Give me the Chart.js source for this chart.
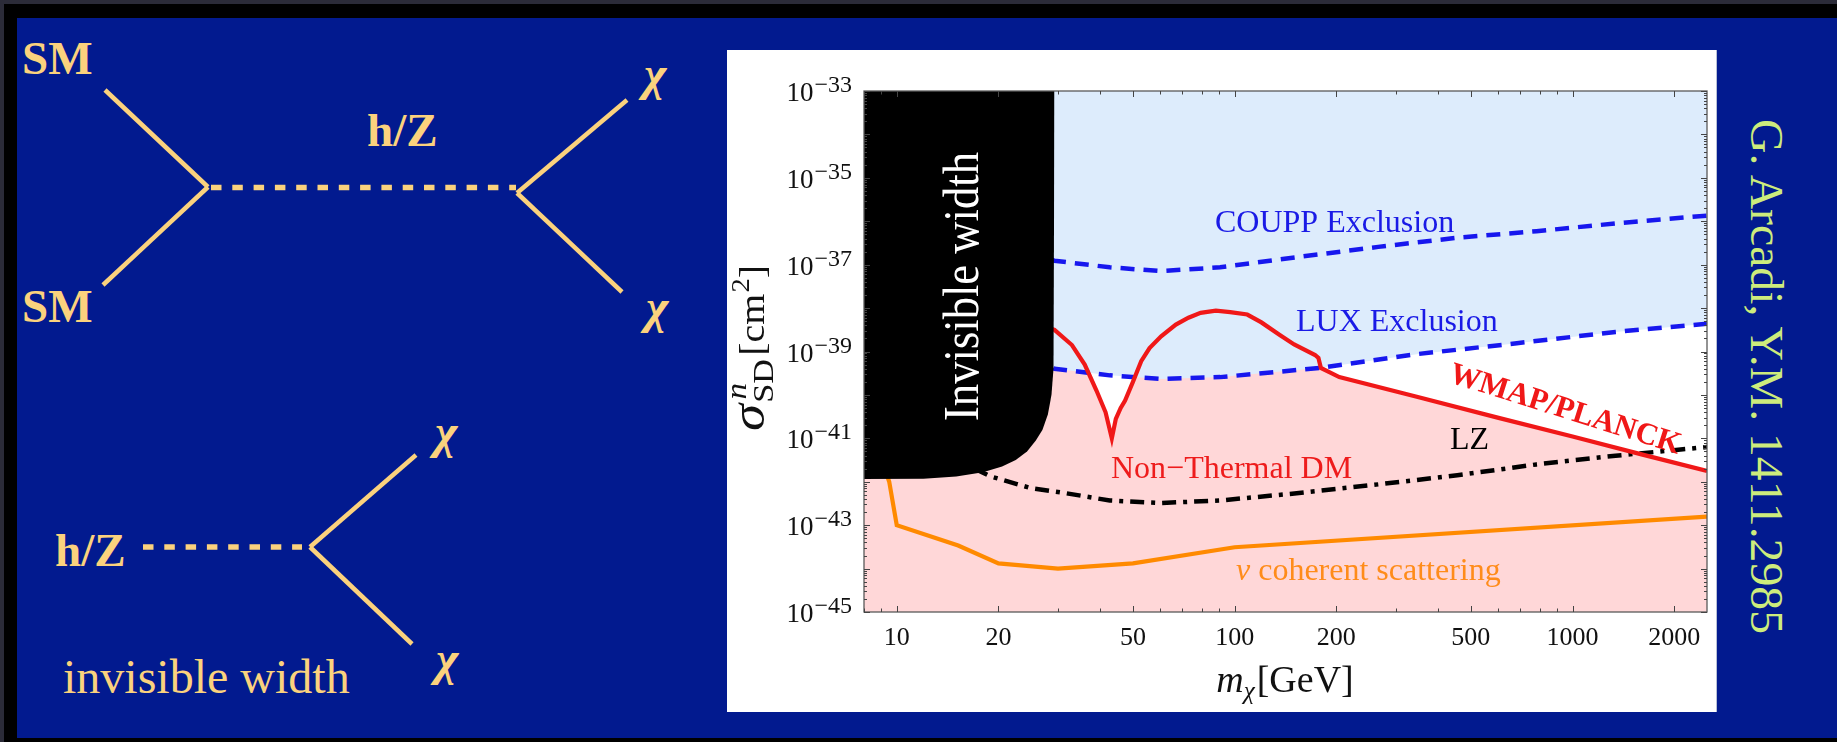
<!DOCTYPE html>
<html>
<head>
<meta charset="utf-8">
<title>Invisible width and spin-dependent limits</title>
<script src="https://cdn.jsdelivr.net/npm/chart.js@4.4.1/dist/chart.umd.min.js"></script>
<style>
  html, body { margin: 0; padding: 0; }
  body { width: 1837px; height: 742px; position: relative; overflow: hidden; background: #2b2b38; }
  #frame { position: absolute; left: 4px; top: 4px; right: 0; bottom: 0; background: #000; }
  #slide { position: absolute; left: 17px; top: 18px; width: 1820px; height: 720px; background: #021a8f; }
  svg { position: absolute; left: 0; top: 0; }
  #panel { position: absolute; left: 727px; top: 50px; width: 990px; height: 662px; background: #fff; border-right: 1px solid #b7bfd6; box-sizing: border-box; }
  #panel canvas { position: absolute; left: 0; top: 0; }
</style>
</head>
<body>
<div id="frame"></div>
<div id="slide"></div>

<svg width="1837" height="742" xmlns="http://www.w3.org/2000/svg">
  <g stroke="#fbd27d" stroke-width="4.5" fill="none">
    <line x1="105" y1="90" x2="208" y2="187"/>
    <line x1="208" y1="187" x2="103" y2="285"/>
    <line x1="517" y1="193" x2="627" y2="100"/>
    <line x1="517" y1="193" x2="622" y2="292"/>
    <line x1="310" y1="547" x2="416" y2="455"/>
    <line x1="310" y1="547" x2="412" y2="644"/>
  </g>
  <g stroke="#fbd27d" stroke-width="5.5" stroke-dasharray="10.5 10.8">
    <line x1="211" y1="187.5" x2="516" y2="187.5"/>
    <line x1="143" y1="547" x2="302" y2="547"/>
  </g>
  <g fill="#fbd27d" font-family="Liberation Serif, Times New Roman, serif">
    <text x="22" y="74" font-size="47" font-weight="700">SM</text>
    <text x="22" y="322" font-size="47" font-weight="700">SM</text>
    <text x="367" y="146" font-size="47" font-weight="700">h/Z</text>
    <text x="55" y="566" font-size="47" font-weight="700">h/Z</text>
    <text x="63" y="693" font-size="48">invisible width</text>
  </g>
  <g fill="#fbd27d" font-family="Liberation Serif, Times New Roman, serif" font-size="48" font-style="italic" font-weight="700">
    <text x="644" y="90">χ</text>
    <text x="646" y="323">χ</text>
    <text x="435" y="448">χ</text>
    <text x="436" y="675">χ</text>
  </g>
  <text transform="translate(1751 119) rotate(90)" fill="#cdec7c" font-size="47"
        textLength="515" lengthAdjust="spacingAndGlyphs"
        font-family="Liberation Serif, Times New Roman, serif">G. Arcadi, Y.M. 1411.2985</text>
</svg>

<div id="panel"><canvas id="chart" width="989" height="662"></canvas></div>

<script>
// dark matter mass in GeV, cross sections in cm^2
const massTickValues = [10, 20, 50, 100, 200, 500, 1000, 2000];
const massTickLabels = ['10', '20', '50', '100', '200', '500', '1000', '2000'];
const sigmaTickValues = [1e-33, 1e-35, 1e-37, 1e-39, 1e-41, 1e-43, 1e-45];
const sigmaTickPowers = ['\u221233', '\u221235', '\u221237', '\u221239', '\u221241', '\u221243', '\u221245'];

// lower edge of the invisible width exclusion
const invisibleMass  = [8, 12, 15, 18, 20.5, 22.5, 24.3, 25.8, 27, 28, 28.7, 29.1, 29.3];
const invisibleSigma = [1.15e-42, 1.17e-42, 1.32e-42, 1.66e-42, 2.24e-42, 3.16e-42, 5.0e-42,
                        8.9e-42, 1.58e-41, 3.55e-41, 1.0e-40, 3.98e-40, 1e-33];

// WMAP/PLANCK relic density curve
const relicMass  = [8, 29.3, 33, 36, 39, 41.5, 43.3, 44.5, 46, 47.4, 50, 52.9, 56, 60.6, 67, 73,
                    79.3, 88, 97, 109, 120, 136, 150, 173, 177, 180, 190, 204, 346, 600, 1000, 1600, 2500];
const relicSigma = [1e-37, 3.16e-39, 1.41e-39, 5.0e-40, 1.26e-40, 3.98e-41, 1.0e-41, 2.82e-41, 5.0e-41,
                    7.4e-41, 2.0e-40, 6.0e-40, 1.2e-39, 2.24e-39, 4.17e-39, 6.0e-39, 7.76e-39, 8.7e-39,
                    8.1e-39, 7.1e-39, 4.68e-39, 2.4e-39, 1.45e-39, 8.3e-40, 7.1e-40, 4.17e-40, 3.4e-40,
                    2.57e-40, 9.1e-41, 3.0e-41, 1.1e-41, 4.27e-42, 1.78e-42];

const couppMass  = [8, 29.3, 42.7, 60.5, 90.6, 155, 266, 456, 782, 1340, 2500];
const couppSigma = [1.26e-35, 1.23e-37, 8.7e-38, 7.1e-38, 8.7e-38, 1.51e-37, 2.57e-37, 4.17e-37,
                    5.9e-37, 8.9e-37, 1.35e-36];

const luxMass  = [8, 29.3, 42.7, 60.5, 90.6, 178, 346, 684, 1340, 2500];
const luxSigma = [3.55e-38, 4.0e-40, 2.82e-40, 2.34e-40, 2.57e-40, 4.17e-40, 8.7e-40, 1.55e-39,
                  2.82e-39, 4.37e-39];

const lzMass  = [17, 19, 25, 31, 42.7, 60.5, 90.6, 155, 266, 456, 782, 1340, 2500];
const lzSigma = [2.0e-42, 1.32e-42, 7.1e-43, 5.6e-43, 3.7e-43, 3.24e-43, 3.7e-43, 5.5e-43, 8.7e-43,
                 1.41e-42, 2.51e-42, 3.98e-42, 6.3e-42];

// neutrino coherent scattering floor
const nuMass  = [8, 9.5, 10, 15.2, 20, 30, 50, 100, 2500];
const nuSigma = [5.0e-41, 1.0e-42, 1.0e-43, 3.4e-44, 1.32e-44, 1.0e-44, 1.32e-44, 3.1e-44, 1.58e-43];

const SERIF = '"Liberation Serif", "Times New Roman", serif';
const CLEAR = 'rgba(0,0,0,0)';

function pts(xs, ys) {
  return xs.map((x, i) => ({ x: x, y: ys[i] }));
}

function drawSigmaTitle(ctx) {
  ctx.save();
  ctx.translate(37, 298);
  ctx.rotate(-Math.PI / 2);
  ctx.fillStyle = '#111';
  ctx.textAlign = 'left';
  ctx.textBaseline = 'alphabetic';
  ctx.font = 'italic 48px ' + SERIF;
  const wSig = ctx.measureText('σ').width;
  ctx.font = 'italic 29px ' + SERIF;
  const wN = ctx.measureText('n').width;
  ctx.font = '30px ' + SERIF;
  const wSD = ctx.measureText('SD').width;
  ctx.font = '35px ' + SERIF;
  const wCm = ctx.measureText('[cm').width;
  const wBr = ctx.measureText(']').width;
  ctx.font = '25px ' + SERIF;
  const w2 = ctx.measureText('2').width;
  const total = wSig + 1 + Math.max(wN, wSD) + 3 + wCm + 1 + w2 + wBr;
  ctx.scale(166 / total, 1);
  let cx = -total / 2;
  ctx.font = 'italic 48px ' + SERIF;
  ctx.fillText('σ', cx, 0);
  cx += wSig + 1;
  ctx.font = 'italic 29px ' + SERIF;
  ctx.fillText('n', cx + 3, -18);
  ctx.font = '30px ' + SERIF;
  ctx.fillText('SD', cx, 9);
  cx += Math.max(wN, wSD) + 3;
  ctx.font = '35px ' + SERIF;
  ctx.fillText('[cm', cx, 0);
  cx += wCm + 1;
  ctx.font = '25px ' + SERIF;
  ctx.fillText('2', cx, -15);
  cx += w2;
  ctx.font = '35px ' + SERIF;
  ctx.fillText(']', cx, 0);
  ctx.restore();
}

function drawMassTitle(ctx) {
  ctx.save();
  ctx.fillStyle = '#111';
  ctx.textAlign = 'left';
  ctx.font = 'italic 38px ' + SERIF;
  const wm = ctx.measureText('m').width;
  ctx.font = 'italic 25px ' + SERIF;
  const wc = ctx.measureText('χ').width;
  ctx.font = '38px ' + SERIF;
  const wg = ctx.measureText('[GeV]').width;
  const total = wm + wc + 2 + wg;
  let cx = 558 - total / 2;
  ctx.font = 'italic 38px ' + SERIF;
  ctx.fillText('m', cx, 642);
  cx += wm;
  ctx.font = 'italic 25px ' + SERIF;
  ctx.fillText('χ', cx, 649);
  cx += wc + 2;
  ctx.font = '38px ' + SERIF;
  ctx.fillText('[GeV]', cx, 642);
  ctx.restore();
}

const frameAndLabels = {
  id: 'frameAndLabels',
  afterDraw(chart) {
    const ctx = chart.ctx;
    const a = chart.chartArea;
    const xs = chart.scales.x;
    const ys = chart.scales.y;
    ctx.save();

    // text inside the plot
    ctx.textAlign = 'left';
    ctx.textBaseline = 'alphabetic';
    ctx.font = '32px ' + SERIF;
    ctx.fillStyle = '#1a1ae6';
    ctx.fillText('COUPP Exclusion', 488, 182);
    ctx.fillText('LUX Exclusion', 569, 281);
    ctx.fillStyle = '#ee1c1c';
    ctx.fillText('Non\u2212Thermal DM', 384, 428);
    ctx.fillStyle = '#000';
    ctx.fillText('LZ', 723, 399);
    ctx.fillStyle = '#ff8c1a';
    ctx.font = 'italic 32px ' + SERIF;
    ctx.fillText('ν', 509, 530);
    const wnu = ctx.measureText('ν').width;
    ctx.font = '32px ' + SERIF;
    ctx.fillText(' coherent scattering', 509 + wnu, 530);

    ctx.save();
    ctx.translate(838, 360);
    ctx.rotate(17.5 * Math.PI / 180);
    ctx.font = 'bold 31px ' + SERIF;
    ctx.fillStyle = '#f01818';
    ctx.textAlign = 'center';
    ctx.textBaseline = 'middle';
    ctx.fillText('WMAP/PLANCK', 0, 0);
    ctx.restore();

    ctx.save();
    ctx.translate(251, 371);
    ctx.rotate(-Math.PI / 2);
    ctx.font = '50px ' + SERIF;
    const wInv = ctx.measureText('Invisible width').width;
    ctx.scale(269 / wInv, 1);
    ctx.fillStyle = '#fff';
    ctx.fillText('Invisible width', 0, 0);
    ctx.restore();

    // frame and inward ticks
    ctx.strokeStyle = '#5a5a5a';
    ctx.lineWidth = 1.3;
    ctx.strokeRect(a.left, a.top, a.right - a.left, a.bottom - a.top);
    ctx.strokeStyle = '#444';
    ctx.lineWidth = 1;
    ctx.beginPath();
    for (let d = 1; d <= 1000; d *= 10) {
      for (let k = 1; k <= 9; k++) {
        const v = k * d;
        if (v < xs.min || v > xs.max) continue;
        const px = Math.round(xs.getPixelForValue(v)) + 0.5;
        const len = massTickValues.includes(v) ? 6 : 3.5;
        ctx.moveTo(px, a.bottom); ctx.lineTo(px, a.bottom - len);
        ctx.moveTo(px, a.top); ctx.lineTo(px, a.top + len);
      }
    }
    for (let e = -45; e <= -33; e++) {
      for (let k = 1; k <= 9; k++) {
        const v = k * Math.pow(10, e);
        if (v > ys.max * 1.0001) continue;
        const py = Math.round(ys.getPixelForValue(v)) + 0.5;
        const len = k === 1 ? 6 : 3;
        ctx.moveTo(a.left, py); ctx.lineTo(a.left + len, py);
        ctx.moveTo(a.right, py); ctx.lineTo(a.right - len, py);
      }
    }
    ctx.stroke();

    // tick labels
    ctx.fillStyle = '#111';
    ctx.textAlign = 'center';
    ctx.textBaseline = 'alphabetic';
    ctx.font = '26px ' + SERIF;
    massTickValues.forEach((v, i) => {
      ctx.fillText(massTickLabels[i], xs.getPixelForValue(v), 595);
    });
    ctx.textAlign = 'right';
    sigmaTickValues.forEach((v, i) => {
      const py = ys.getPixelForValue(v);
      ctx.font = '24px ' + SERIF;
      const w = ctx.measureText(sigmaTickPowers[i]).width;
      ctx.fillText(sigmaTickPowers[i], 125, py + 1);
      ctx.font = '27px ' + SERIF;
      ctx.fillText('10', 125 - w - 1, py + 10);
    });

    drawSigmaTitle(ctx);
    drawMassTitle(ctx);
    ctx.restore();
  }
};

const ctx = document.getElementById('chart').getContext('2d');
const chart = new Chart(ctx, {
  type: 'line',
  data: {
    datasets: [
      {
        label: 'Invisible width',
        data: pts(invisibleMass, invisibleSigma),
        borderColor: CLEAR,
        borderWidth: 0,
        backgroundColor: '#000',
        fill: 'end'
      },
      {
        label: 'WMAP/PLANCK',
        data: pts(relicMass, relicSigma),
        borderColor: '#f01818',
        borderWidth: 4.2,
        fill: false
      },
      {
        label: 'COUPP Exclusion',
        data: pts(couppMass, couppSigma),
        borderColor: '#1717ee',
        borderWidth: 4.5,
        borderDash: [14, 9],
        fill: false
      },
      {
        label: 'LUX Exclusion',
        data: pts(luxMass, luxSigma),
        borderColor: '#1717ee',
        borderWidth: 4.5,
        borderDash: [14, 9],
        fill: false
      },
      {
        label: 'LZ',
        data: pts(lzMass, lzSigma),
        borderColor: '#000',
        borderWidth: 4.5,
        borderDash: [14, 7, 4, 7],
        fill: false
      },
      {
        label: 'nu coherent scattering',
        data: pts(nuMass, nuSigma),
        borderColor: '#ff8a00',
        borderWidth: 4.2,
        fill: false
      },
      {
        label: 'LUX excluded region',
        data: pts(luxMass, luxSigma),
        borderColor: CLEAR,
        borderWidth: 0,
        backgroundColor: '#ddecfc',
        fill: 'end'
      },
      {
        label: 'Non-thermal region',
        data: pts(relicMass, relicSigma),
        borderColor: CLEAR,
        borderWidth: 0,
        backgroundColor: '#ffd7d8',
        fill: 'start'
      }
    ]
  },
  options: {
    responsive: false,
    animation: false,
    events: [],
    layout: { padding: { left: 137, right: 9, top: 41, bottom: 100 } },
    elements: { point: { radius: 0 }, line: { tension: 0 } },
    datasets: { line: { clip: 0 } },
    plugins: {
      legend: { display: false },
      tooltip: { enabled: false },
      filler: { drawTime: 'beforeDatasetDraw', propagate: false }
    },
    scales: {
      x: { type: 'logarithmic', min: 8, max: 2500, display: false },
      y: { type: 'logarithmic', min: 1e-45, max: 1e-33, display: false }
    }
  },
  plugins: [frameAndLabels]
});
</script>
</body>
</html>
